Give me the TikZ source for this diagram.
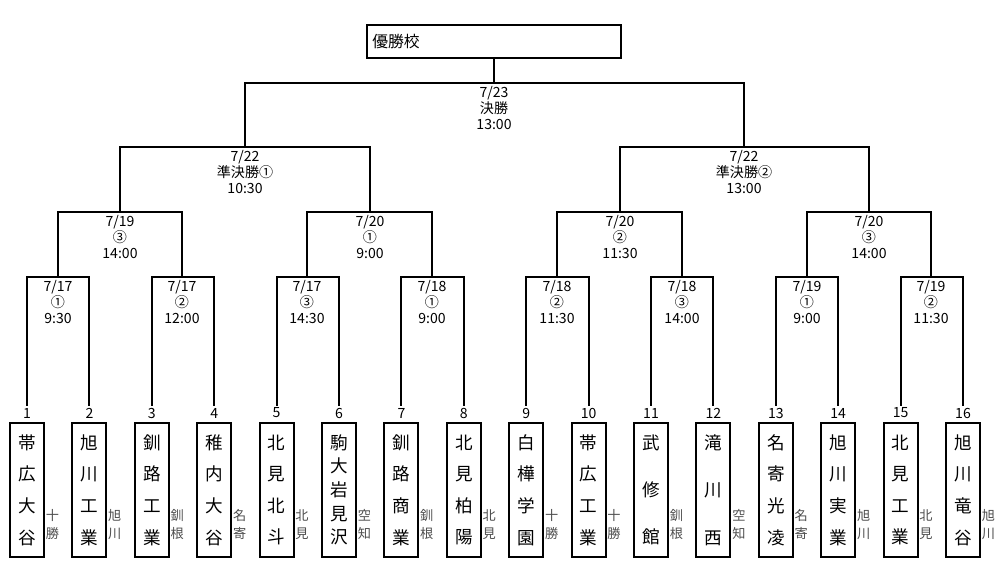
\documentclass[tikz,border=0pt]{standalone}
\usepackage{fontspec}
\setmainfont{Noto Sans CJK JP}
\usetikzlibrary{positioning}
\tikzset{
team/.style={draw, line width=1.1pt, minimum width=0.68cm, minimum height=2.68cm, inner sep=0pt, align=center},
num/.style={inner sep=1pt, font=\fontsize{8}{9}\selectfont},
reg/.style={inner sep=0pt, align=center, text=black!70, font=\fontsize{7.5}{10.2}\selectfont},
match/.style={anchor=north, inner sep=1.5pt, align=center, font=\fontsize{8}{9.2}\selectfont},
link/.style={line width=1.1pt}
}

\begin{document}
\begin{tikzpicture}[x=0.02cm,y=-0.02cm]
\useasboundingbox (0,0) rectangle (1000,567);

% teams
\foreach \i/\nm/\k/\rg in {1/帯\\広\\大\\谷/4/十\\勝, 2/旭\\川\\工\\業/4/旭\\川,
  3/釧\\路\\工\\業/4/釧\\根, 4/稚\\内\\大\\谷/4/名\\寄,
  5/北\\見\\北\\斗/4/北\\見, 6/駒\\大\\岩\\見\\沢/5/空\\知,
  7/釧\\路\\商\\業/4/釧\\根, 8/北\\見\\柏\\陽/4/北\\見,
  9/白\\樺\\学\\園/4/十\\勝, 10/帯\\広\\工\\業/4/十\\勝,
  11/武\\修\\館/3/釧\\根, 12/滝\\川\\西/3/空\\知,
  13/名\\寄\\光\\凌/4/名\\寄, 14/旭\\川\\実\\業/4/旭\\川,
  15/北\\見\\工\\業/4/北\\見, 16/旭\\川\\竜\\谷/4/旭\\川}{
  \pgfmathsetmacro\xx{27+62.4*(\i-1)}
  \pgfmathsetmacro\sk{53.9/(\k-1)}
  \node[team, font=\fontsize{10}{\sk pt}\selectfont] (t\i) at (\xx,490) {\nm};
  \node[num] (n\i) at (\xx,413) {\i};
  \node[reg, anchor=south west] (r\i) at ([xshift=0.3pt,yshift=0.36cm]t\i.south east) {\rg};
}

% matches
\node[match] (m1) at (58,277) {7/17\\①\\9:30};
\node[match] (m2) at (182,277) {7/17\\②\\12:00};
\node[match] (m3) at (307,277) {7/17\\③\\14:30};
\node[match] (m4) at (432,277) {7/18\\①\\9:00};
\node[match] (m5) at (557,277) {7/18\\②\\11:30};
\node[match] (m6) at (682,277) {7/18\\③\\14:00};
\node[match] (m7) at (807,277) {7/19\\①\\9:00};
\node[match] (m8) at (931,277) {7/19\\②\\11:30};
\node[match] (q1) at (120,212) {7/19\\③\\14:00};
\node[match] (q2) at (370,212) {7/20\\①\\9:00};
\node[match] (q3) at (620,212) {7/20\\②\\11:30};
\node[match] (q4) at (869,212) {7/20\\③\\14:00};
\node[match] (s1) at (245,147) {7/22\\準決勝①\\10:30};
\node[match] (s2) at (744,147) {7/22\\準決勝②\\13:00};
\node[match] (f) at (494,83) {7/23\\決勝\\13:00};

\node[draw, line width=1.1pt, minimum height=0.66cm, text width=5.08cm-6pt, inner sep=3pt,
  align=left, font=\fontsize{9}{10}\selectfont] (win) at (494,41.5) {優勝校};

% brackets
\foreach \a/\b/\m in {n1/n2/m1, n3/n4/m2, n5/n6/m3, n7/n8/m4, n9/n10/m5, n11/n12/m6,
  n13/n14/m7, n15/n16/m8, m1/m2/q1, m3/m4/q2, m5/m6/q3, m7/m8/q4, q1/q2/s1, q3/q4/s2, s1/s2/f}
  \draw[link] (\a.north) |- (\m.north) -| (\b.north);
\draw[link] (f.north) -- (win.south);
\end{tikzpicture}
\end{document}
